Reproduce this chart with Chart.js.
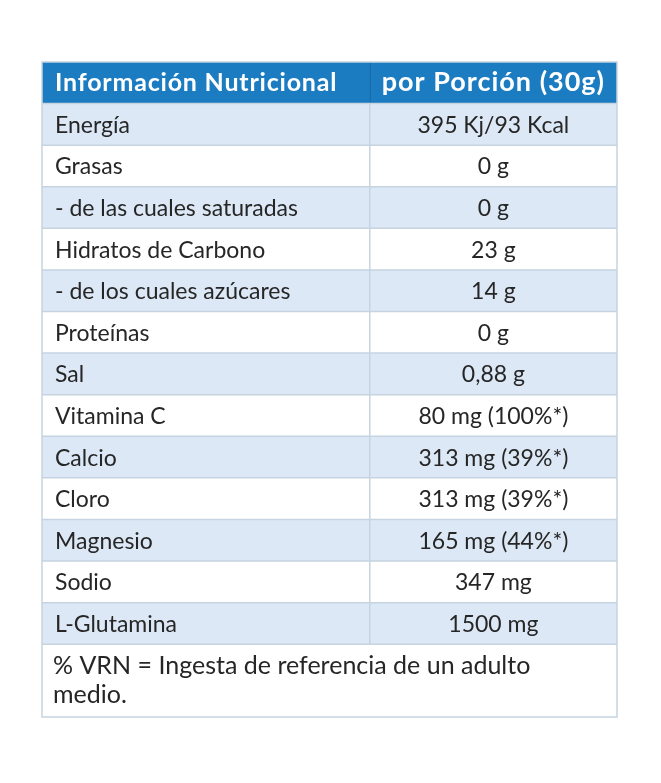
<!DOCTYPE html>
<html>
<head>
<meta charset="utf-8">
<script src="https://cdn.jsdelivr.net/npm/chart.js@4"></script>
<style>
  html, body { margin: 0; background: #fff; }
  #wrap { width: 661px; height: 783px; }
</style>
</head>
<body>
<div id="wrap"><canvas id="tabla"></canvas></div>
<script>
// Datos de la tabla
const encabezado = ["Información Nutricional", "por Porción (30g)"];
const nutrientes = ["Energía", "Grasas", "- de las cuales saturadas", "Hidratos de Carbono",
  "- de los cuales azúcares", "Proteínas", "Sal", "Vitamina C", "Calcio", "Cloro",
  "Magnesio", "Sodio", "L-Glutamina"];
const valores = ["395 Kj/93 Kcal", "0 g", "0 g", "23 g", "14 g", "0 g", "0,88 g",
  "80 mg (100%*)", "313 mg (39%*)", "313 mg (39%*)", "165 mg (44%*)", "347 mg", "1500 mg"];
const notaLineas = ["% VRN = Ingesta de referencia de un adulto", "medio."];
const notaFilas = 1.75;
const divisor = 0.57;

const totalFilas = 1 + nutrientes.length + notaFilas;

const tablaPlugin = {
  id: "tabla",
  beforeDatasetsDraw(chart) {
    const ctx = chart.ctx;
    const x = chart.scales.x, y = chart.scales.y;
    const xl = x.getPixelForValue(0), xr = x.getPixelForValue(1), xd = x.getPixelForValue(divisor);
    const fila = i => [y.getPixelForValue(i), y.getPixelForValue(i + 1)];
    ctx.save();

    // encabezado
    let [a, b] = fila(0);
    ctx.fillStyle = "#1b7cc1";
    ctx.fillRect(xl, a, xr - xl, b - a);
    ctx.fillStyle = "#fff";
    ctx.textBaseline = "middle";
    ctx.font = "bold 25px Lato";
    ctx.letterSpacing = "0.8px";
    ctx.textAlign = "left";
    ctx.fillText(encabezado[0], xl + 13, (a + b) / 2);
    ctx.font = "bold 27px Lato";
    ctx.letterSpacing = "1px";
    ctx.textAlign = "center";
    ctx.fillText(encabezado[1], (xd + xr) / 2, (a + b) / 2);
    ctx.letterSpacing = "0px";
    ctx.strokeStyle = "#166aa6";
    ctx.beginPath(); ctx.moveTo(xd + 0.5, a); ctx.lineTo(xd + 0.5, b); ctx.stroke();

    // filas
    nutrientes.forEach((n, i) => {
      const [t, u] = fila(i + 1);
      ctx.fillStyle = i % 2 === 0 ? "#dce8f5" : "#ffffff";
      ctx.fillRect(xl, t, xr - xl, u - t);
      ctx.fillStyle = "#262626";
      ctx.font = "23px Lato";
      ctx.textAlign = "left";
      ctx.fillText(n, xl + 13, (t + u) / 2 + 1);
      ctx.textAlign = "center";
      ctx.fillText(valores[i], (xd + xr) / 2, (t + u) / 2 + 1);
    });

    // nota
    const [p, q] = [y.getPixelForValue(1 + nutrientes.length), y.getPixelForValue(totalFilas)];
    ctx.textAlign = "left";
    ctx.font = "25px Lato";
    ctx.fillStyle = "#262626";
    notaLineas.forEach((l, k) => ctx.fillText(l, xl + 11, p + 22 + k * 29));

    // lineas
    ctx.strokeStyle = "#c6d3e0";
    ctx.lineWidth = 1.5;
    for (let i = 1; i <= nutrientes.length + 1; i++) {
      const yy = y.getPixelForValue(i);
      ctx.beginPath(); ctx.moveTo(xl, yy); ctx.lineTo(xr, yy); ctx.stroke();
    }
    const [h0] = fila(1);
    ctx.beginPath(); ctx.moveTo(xd, h0); ctx.lineTo(xd, p); ctx.stroke();
    ctx.strokeRect(xl, y.getPixelForValue(0), xr - xl, q - y.getPixelForValue(0));
    ctx.restore();
  }
};

new Chart(document.getElementById("tabla"), {
  type: "scatter",
  data: { datasets: [{ data: [] }] },
  options: {
    responsive: true,
    maintainAspectRatio: false,
    animation: false,
    layout: { padding: { left: 42, right: 44, top: 62, bottom: 66 } },
    plugins: { legend: { display: false }, tooltip: { enabled: false } },
    scales: {
      x: { type: "linear", min: 0, max: 1, display: false },
      y: { type: "linear", min: 0, max: totalFilas, reverse: true, display: false }
    }
  },
  plugins: [tablaPlugin]
});
</script>
</body>
</html>
